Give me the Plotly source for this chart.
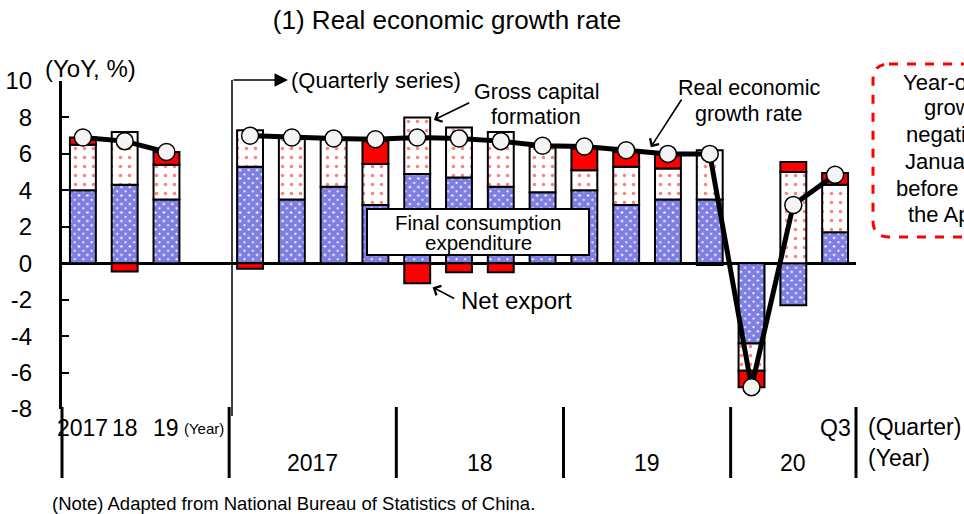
import plotly.graph_objects as go

# ---------------- data ----------------
slot_labels = ["2017", "18", "19", "",
               "17Q1", "17Q2", "17Q3", "17Q4",
               "18Q1", "18Q2", "18Q3", "18Q4",
               "19Q1", "19Q2", "19Q3", "19Q4",
               "20Q1", "20Q2", "20Q3"]
consumption = [4.0, 4.3, 3.5, None, 5.3, 3.5, 4.2, 3.2, 4.9, 4.7, 4.2, 3.9,
               4.0, 3.2, 3.5, 3.5, -4.4, -2.3, 1.7]
capital = [2.5, 2.9, 1.9, None, 2.0, 3.4, 2.6, 2.25, 3.1, 2.75, 3.0, 2.5,
           1.1, 2.1, 1.7, 2.7, -1.5, 5.0, 2.6]
net_export = [0.4, -0.45, 0.7, None, -0.3, 0.0, 0.0, 1.25, -1.1, -0.5, -0.5, 0.0,
              1.2, 0.8, 0.8, -0.1, -0.9, 0.55, 0.65]
growth = [6.9, 6.7, 6.1, None, 7.0, 6.9, 6.85, 6.8, 6.9, 6.85, 6.7, 6.45,
          6.4, 6.2, 6.0, 6.0, -6.8, 3.2, 4.85]
y_tick_vals = [-8, -6, -4, -2, 0, 2, 4, 6, 8, 10]
y_tick_text = ["-8", "-6", "-4", "-2", "0", "2", "4", "6", "8", "10"]
annual_ticks = ["2017", "18", "19"]
year_groups = ["2017", "18", "19", "20"]

x = list(range(len(slot_labels)))

# ---------------- geometry helpers ----------------
W, H = 964, 514
ML, MR, MT, MB = 62, 108, 81, 105
X0, X1 = -0.5, len(slot_labels) - 0.5
Y0, Y1 = -8, 10
PW, PH = W - ML - MR, H - MT - MB


def pxx(px):  # pixel -> paper x
    return (px - ML) / PW


def pxy(py):  # pixel -> paper y
    return (H - MB - py) / PH


def xp(i):  # data x -> paper x
    return (i - X0) / (X1 - X0)


FONT = "Liberation Sans, Arial, sans-serif"
BLACK = "#000000"
RED = "#FF0000"
BLUE = "#0000C8"

fig = go.Figure()
fig.add_trace(go.Bar(
    x=x, y=consumption, width=0.62, name="Final consumption expenditure",
    marker=dict(color="white", line=dict(color=BLACK, width=2),
                pattern=dict(shape="x", fgcolor=BLUE, bgcolor="white", size=6, solidity=0.9)),
))
fig.add_trace(go.Bar(
    x=x, y=capital, width=0.62, name="Gross capital formation",
    marker=dict(color="white", line=dict(color=BLACK, width=2),
                pattern=dict(shape=".", fgcolor=RED, bgcolor="white", size=9, solidity=0.12)),
))
fig.add_trace(go.Bar(
    x=x, y=net_export, width=0.62, name="Net export",
    marker=dict(color=RED, line=dict(color=BLACK, width=2)),
))
fig.add_trace(go.Scatter(
    x=x, y=growth, mode="lines+markers", name="Real economic growth rate",
    connectgaps=False,
    line=dict(color=BLACK, width=5),
    marker=dict(symbol="circle", size=17, color="#F4F4F4", line=dict(color=BLACK, width=1.5)),
))

shapes = []
# vertical separators below the axis
for b in [X0, 3.5, 7.5, 11.5, 15.5, X1]:
    shapes.append(dict(type="line", xref="paper", yref="paper",
                       x0=xp(b), x1=xp(b), y0=pxy(407), y1=pxy(478),
                       line=dict(color=BLACK, width=3)))
# quarterly-series bracket line
shapes.append(dict(type="line", xref="paper", yref="paper",
                   x0=pxx(232), x1=pxx(232), y0=pxy(416), y1=pxy(80),
                   line=dict(color=BLACK, width=1.5)))
# final consumption box
shapes.append(dict(type="rect", xref="paper", yref="paper", layer="above",
                   x0=pxx(367), x1=pxx(589), y0=pxy(255), y1=pxy(209),
                   fillcolor="white", line=dict(color=BLACK, width=2)))
# red dashed rounded box (runs off the right edge)
L, T, B, R, r = 873, 64, 237, 1010, 16
path = (f"M {pxx(L + r)},{pxy(T)} L {pxx(R)},{pxy(T)} L {pxx(R)},{pxy(B)} "
        f"L {pxx(L + r)},{pxy(B)} Q {pxx(L)},{pxy(B)} {pxx(L)},{pxy(B - r)} "
        f"L {pxx(L)},{pxy(T + r)} Q {pxx(L)},{pxy(T)} {pxx(L + r)},{pxy(T)} Z")
shapes.append(dict(type="path", xref="paper", yref="paper", path=path,
                   fillcolor="white", line=dict(color=RED, width=3, dash="dash")))

ann = []


def text(t, xx, yy, size=20, xanchor="center", xref="paper", yref="paper"):
    ann.append(dict(text=t, x=xx, y=yy, xref=xref, yref=yref, showarrow=False,
                    xanchor=xanchor, yanchor="middle",
                    font=dict(family=FONT, size=size, color=BLACK)))


def arrow(hx, hy, tx, ty, head=4, size=1.3, width=1.6):
    ann.append(dict(text="", x=hx, y=hy, ax=tx, ay=ty, xref="x", yref="y",
                    axref="x", ayref="y", showarrow=True, arrowhead=head,
                    arrowsize=size, arrowwidth=width, arrowcolor=BLACK))


text("(YoY, %)", pxx(90), pxy(69), 24)
# row-1 labels
for i, t in enumerate(annual_ticks):
    text(t, x[i], pxy(428), 23, xref="x")
text("(Year)", pxx(182), pxy(428), 15, xanchor="left")
text("Q3", x[-1], pxy(428), 23, xref="x")
text("(Quarter)", pxx(866), pxy(427), 23, xanchor="left")
text("(Year)", pxx(866), pxy(458), 23, xanchor="left")
# row-2 labels (year groups)
for t, c in zip(year_groups, [5.5, 9.5, 13.5, 17.0]):
    text(t, c, pxy(463), 23, xref="x")
text("(Note) Adapted from National Bureau of Statistics of China.", pxx(50), pxy(503), 18.5, xanchor="left")

# callouts
text("(Quarterly series)", pxx(289), pxy(80), 22, xanchor="left")
ann.append(dict(text="", x=pxx(288), y=pxy(80), xref="paper", yref="paper",
                ax=-56, ay=0, showarrow=True, arrowhead=2, arrowsize=1.8,
                arrowwidth=1.5, arrowcolor=BLACK))
text("Gross capital", pxx(536), pxy(92), 21.5)
text("formation", pxx(536), pxy(117), 21.5)
arrow(8.4, 7.86, 9.28, 8.85)
text("Real economic", pxx(749), pxy(88), 21.5)
text("growth rate", pxx(749), pxy(114), 21.5)
arrow(13.59, 6.37, 14.35, 9.07)
text("Final consumption", pxx(478), pxy(222), 20.5)
text("expenditure", pxx(478), pxy(242), 20.5)
text("Net export", pxx(459), pxy(300), 24, xanchor="left")
arrow(8.37, -1.32, 8.92, -1.98)

# red box text (clipped by the image edge)
red_lines = [("Year-on-year", 901, 82), ("growth turned", 922, 108),
             ("negative in", 904, 134), ("January-March", 903, 161),
             ("before recovering in", 894, 188), ("the April-June quarter", 906, 214)]
for t, lx, ly in red_lines:
    text(t, pxx(lx), pxy(ly), 22, xanchor="left")

fig.update_layout(
    width=W, height=H,
    margin=dict(l=ML, r=MR, t=MT, b=MB, autoexpand=False),
    paper_bgcolor="white", plot_bgcolor="white",
    barmode="relative", bargap=0.38, showlegend=False,
    font=dict(family=FONT, size=20, color=BLACK),
    title=dict(text="(1) Real economic growth rate", x=447 / W, xref="container",
               y=1 - 20 / H, yref="container", xanchor="center", yanchor="middle",
               font=dict(family=FONT, size=26, color=BLACK)),
    xaxis=dict(range=[X0, X1], showticklabels=False, showgrid=False, zeroline=False,
               showline=False, ticks="", automargin=False),
    yaxis=dict(range=[Y0, Y1], tickmode="array", tickvals=y_tick_vals, ticktext=y_tick_text,
               showgrid=False, zeroline=True,
               zerolinecolor=BLACK, zerolinewidth=3, showline=True, linecolor=BLACK,
               linewidth=3, ticks="inside", ticklen=7, tickwidth=2, tickcolor=BLACK,
               automargin=False,
               ticklabelstandoff=22, tickfont=dict(family=FONT, size=24, color=BLACK)),
    shapes=shapes, annotations=ann,
)

fig.write_html("out.html", config={"displayModeBar": False},
               post_script="document.body.style.margin='0';")
